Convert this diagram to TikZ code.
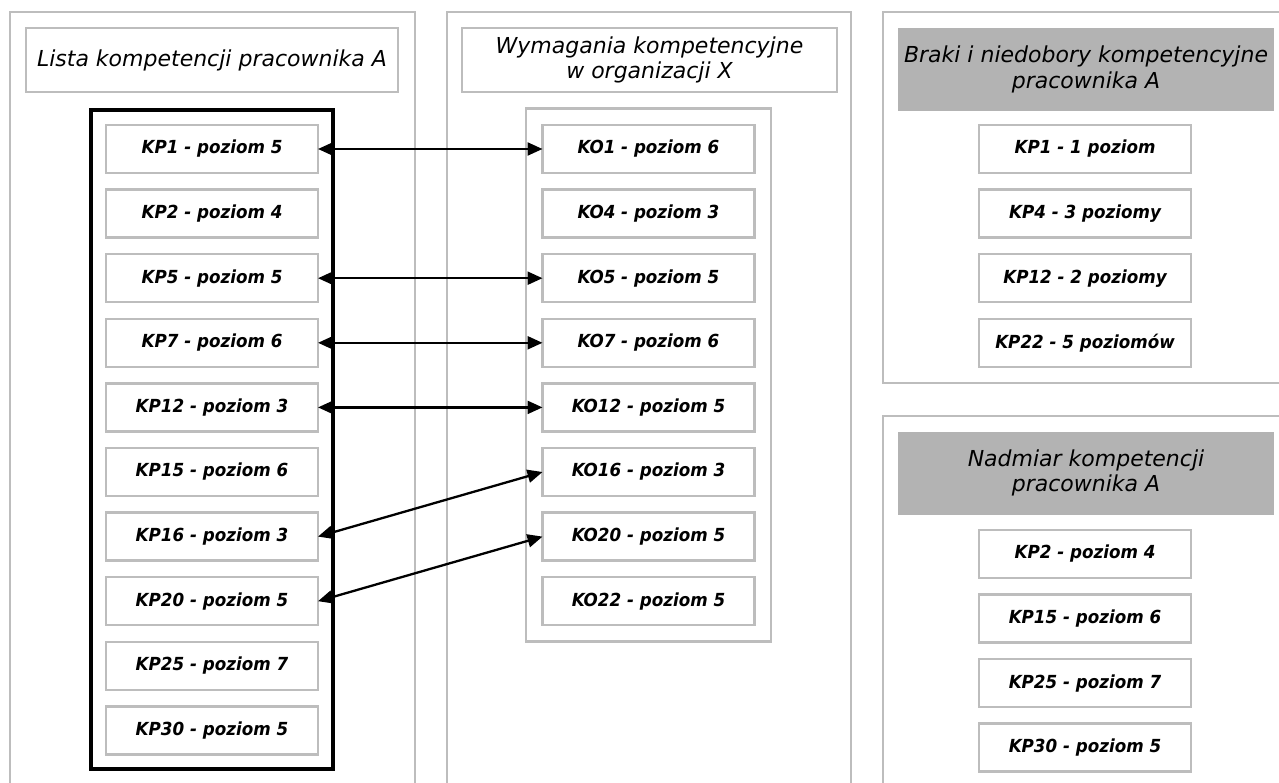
\documentclass[tikz,border=0pt]{standalone}
\usepackage{fontspec}
\setmainfont{DejaVu Sans}
\newfontfamily\itemfam{DejaVu Sans}[FakeStretch=0.93]
\usepackage{tikz}
\usetikzlibrary{arrows.meta,positioning,fit}

\definecolor{panelgray}{HTML}{BDBDBD}
\definecolor{fillgray}{HTML}{B3B3B3}
\newcommand{\headfont}{\fontsize{22}{25.5}\selectfont\itshape}
\newcommand{\itemfont}{\itemfam\fontsize{18}{21}\selectfont\itshape\bfseries}

\begin{document}
\begin{tikzpicture}[x=1pt, y=-1pt,
    panel/.style = {draw=panelgray, line width=2pt},
    title/.style = {draw=panelgray, line width=2.5pt, minimum width=372pt, minimum height=64pt,
                    align=center, outer sep=0pt, font=\headfont},
    graytitle/.style = {fill=fillgray, minimum width=376pt, minimum height=83pt,
                        align=center, font=\headfont},
    item/.style = {draw=panelgray, line width=2.5pt, fill=white, minimum width=212pt,
                   minimum height=48pt, inner sep=0pt, outer sep=0pt, font=\itemfont},
    group/.style = {draw=panelgray, line width=2.5pt, inner sep=16.5pt},
    listbox/.style = {draw=black, line width=4pt, inner sep=15pt},
    link/.style = {{Triangle[length=15pt,width=13pt]}-{Triangle[length=15pt,width=13pt]}, line width=2.3pt}]
    \useasboundingbox (0,0) rectangle (1279,783);

    % panels
    \draw[panel] (10,795) |- (415,12) -- (415,795);
    \draw[panel] (447,795) |- (851,12) -- (851,795);
    \draw[panel] (1295,12) -| (883,383) -- (1295,383);
    \draw[panel] (1295,416) -| (883,795);

    \node[title] (listtitle) at (212,60) {Lista kompetencji pracownika A};
    \node[title, minimum width=375pt] (reqtitle) at (649.5,60) {Wymagania kompetencyjne\\ w organizacji X};
    \node[graytitle] (gaptitle) at (1086,69.5) {Braki i niedobory kompetencyjne\\ pracownika A};
    \node[graytitle] (extitle) at (1086,473) {Nadmiar kompetencji\\ pracownika A};

    % lista pracownika
    \node[item] (kp1) at (212,149) {KP1 - poziom 5};
    \node[item, below=16.6pt of kp1] (kp2) {KP2 - poziom 4};
    \node[item, below=16.6pt of kp2] (kp5) {KP5 - poziom 5};
    \node[item, below=16.6pt of kp5] (kp7) {KP7 - poziom 6};
    \node[item, below=16.6pt of kp7] (kp12) {KP12 - poziom 3};
    \node[item, below=16.6pt of kp12] (kp15) {KP15 - poziom 6};
    \node[item, below=16.6pt of kp15] (kp16) {KP16 - poziom 3};
    \node[item, below=16.6pt of kp16] (kp20) {KP20 - poziom 5};
    \node[item, below=16.6pt of kp20] (kp25) {KP25 - poziom 7};
    \node[item, below=16.6pt of kp25] (kp30) {KP30 - poziom 5};
    \node[listbox, fit=(kp1)(kp30)] (kplist) {};

    % wymagania organizacji
    \node[item] (ko1) at (648.5,149) {KO1 - poziom 6};
    \node[item, below=16.6pt of ko1] (ko4) {KO4 - poziom 3};
    \node[item, below=16.6pt of ko4] (ko5) {KO5 - poziom 5};
    \node[item, below=16.6pt of ko5] (ko7) {KO7 - poziom 6};
    \node[item, below=16.6pt of ko7] (ko12) {KO12 - poziom 5};
    \node[item, below=16.6pt of ko12] (ko16) {KO16 - poziom 3};
    \node[item, below=16.6pt of ko16] (ko20) {KO20 - poziom 5};
    \node[item, below=16.6pt of ko20] (ko22) {KO22 - poziom 5};
    \node[group, fit=(ko1)(ko22)] (kolist) {};

    % braki
    \node[item] (gap1) at (1085,149) {KP1 - 1 poziom};
    \node[item, below=16.6pt of gap1] (gap4) {KP4 - 3 poziomy};
    \node[item, below=16.6pt of gap4] (gap12) {KP12 - 2 poziomy};
    \node[item, below=16.6pt of gap12] (gap22) {KP22 - 5 poziomów};

    % nadmiar
    \node[item] (ex2) at (1085,553.9) {KP2 - poziom 4};
    \node[item, below=16.6pt of ex2] (ex15) {KP15 - poziom 6};
    \node[item, below=16.6pt of ex15] (ex25) {KP25 - poziom 7};
    \node[item, below=16.6pt of ex25] (ex30) {KP30 - poziom 5};

    \draw[link] (kp1.east) -- (ko1.west);
    \draw[link] (kp5.east) -- (ko5.west);
    \draw[link] (kp7.east) -- (ko7.west);
    \draw[link] (kp12.east) -- (ko12.west);
    \draw[link] (kp16.east) -- (ko16.west);
    \draw[link] (kp20.east) -- (ko20.west);
\end{tikzpicture}
\end{document}
